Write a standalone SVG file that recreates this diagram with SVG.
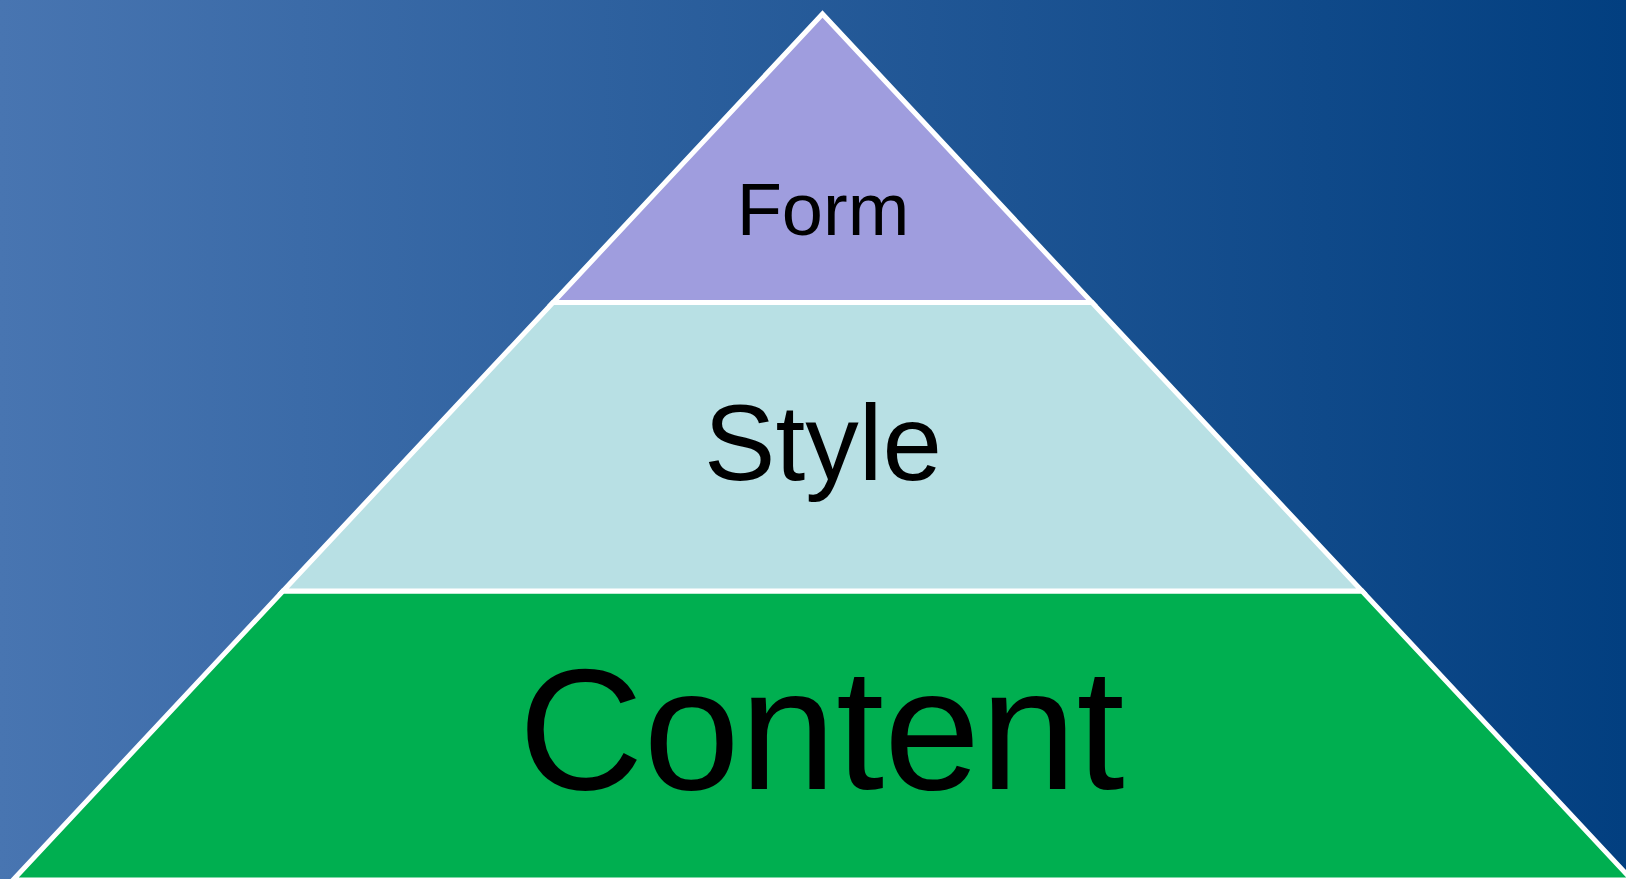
<svg xmlns="http://www.w3.org/2000/svg" width="1626" height="879" viewBox="0 0 1626 879">
  <defs>
    <linearGradient id="bg" x1="0" y1="0" x2="1" y2="0">
      <stop offset="0" stop-color="#4875B1"/>
      <stop offset="1" stop-color="#023F80"/>
    </linearGradient>
  </defs>
  <style>
    .layer { stroke: #FFFFFF; stroke-width: 5; stroke-linejoin: miter; stroke-miterlimit: 10; }
    .lbl { font-family: "Liberation Sans", Arial, sans-serif; fill: #000000; text-anchor: middle; }
  </style>
  <rect x="0" y="0" width="1626" height="879" fill="url(#bg)"/>
  <g id="connectors"/>
  <g id="content">
    <polygon class="layer" fill="#00AF50" points="283,591 1362,591 1632,880 13,880"/>
    <text class="lbl" x="821.5" y="789" font-size="173">Content</text>
  </g>
  <g id="style">
    <polygon class="layer" fill="#B8E0E4" points="553,302.5 1092,302.5 1362,591 283,591"/>
    <text class="lbl" x="823" y="480" font-size="107">Style</text>
  </g>
  <g id="form">
    <polygon class="layer" fill="#9F9DDE" points="822.5,14 1092,302.5 553,302.5"/>
    <text class="lbl" x="823" y="235" font-size="74">Form</text>
  </g>
</svg>
